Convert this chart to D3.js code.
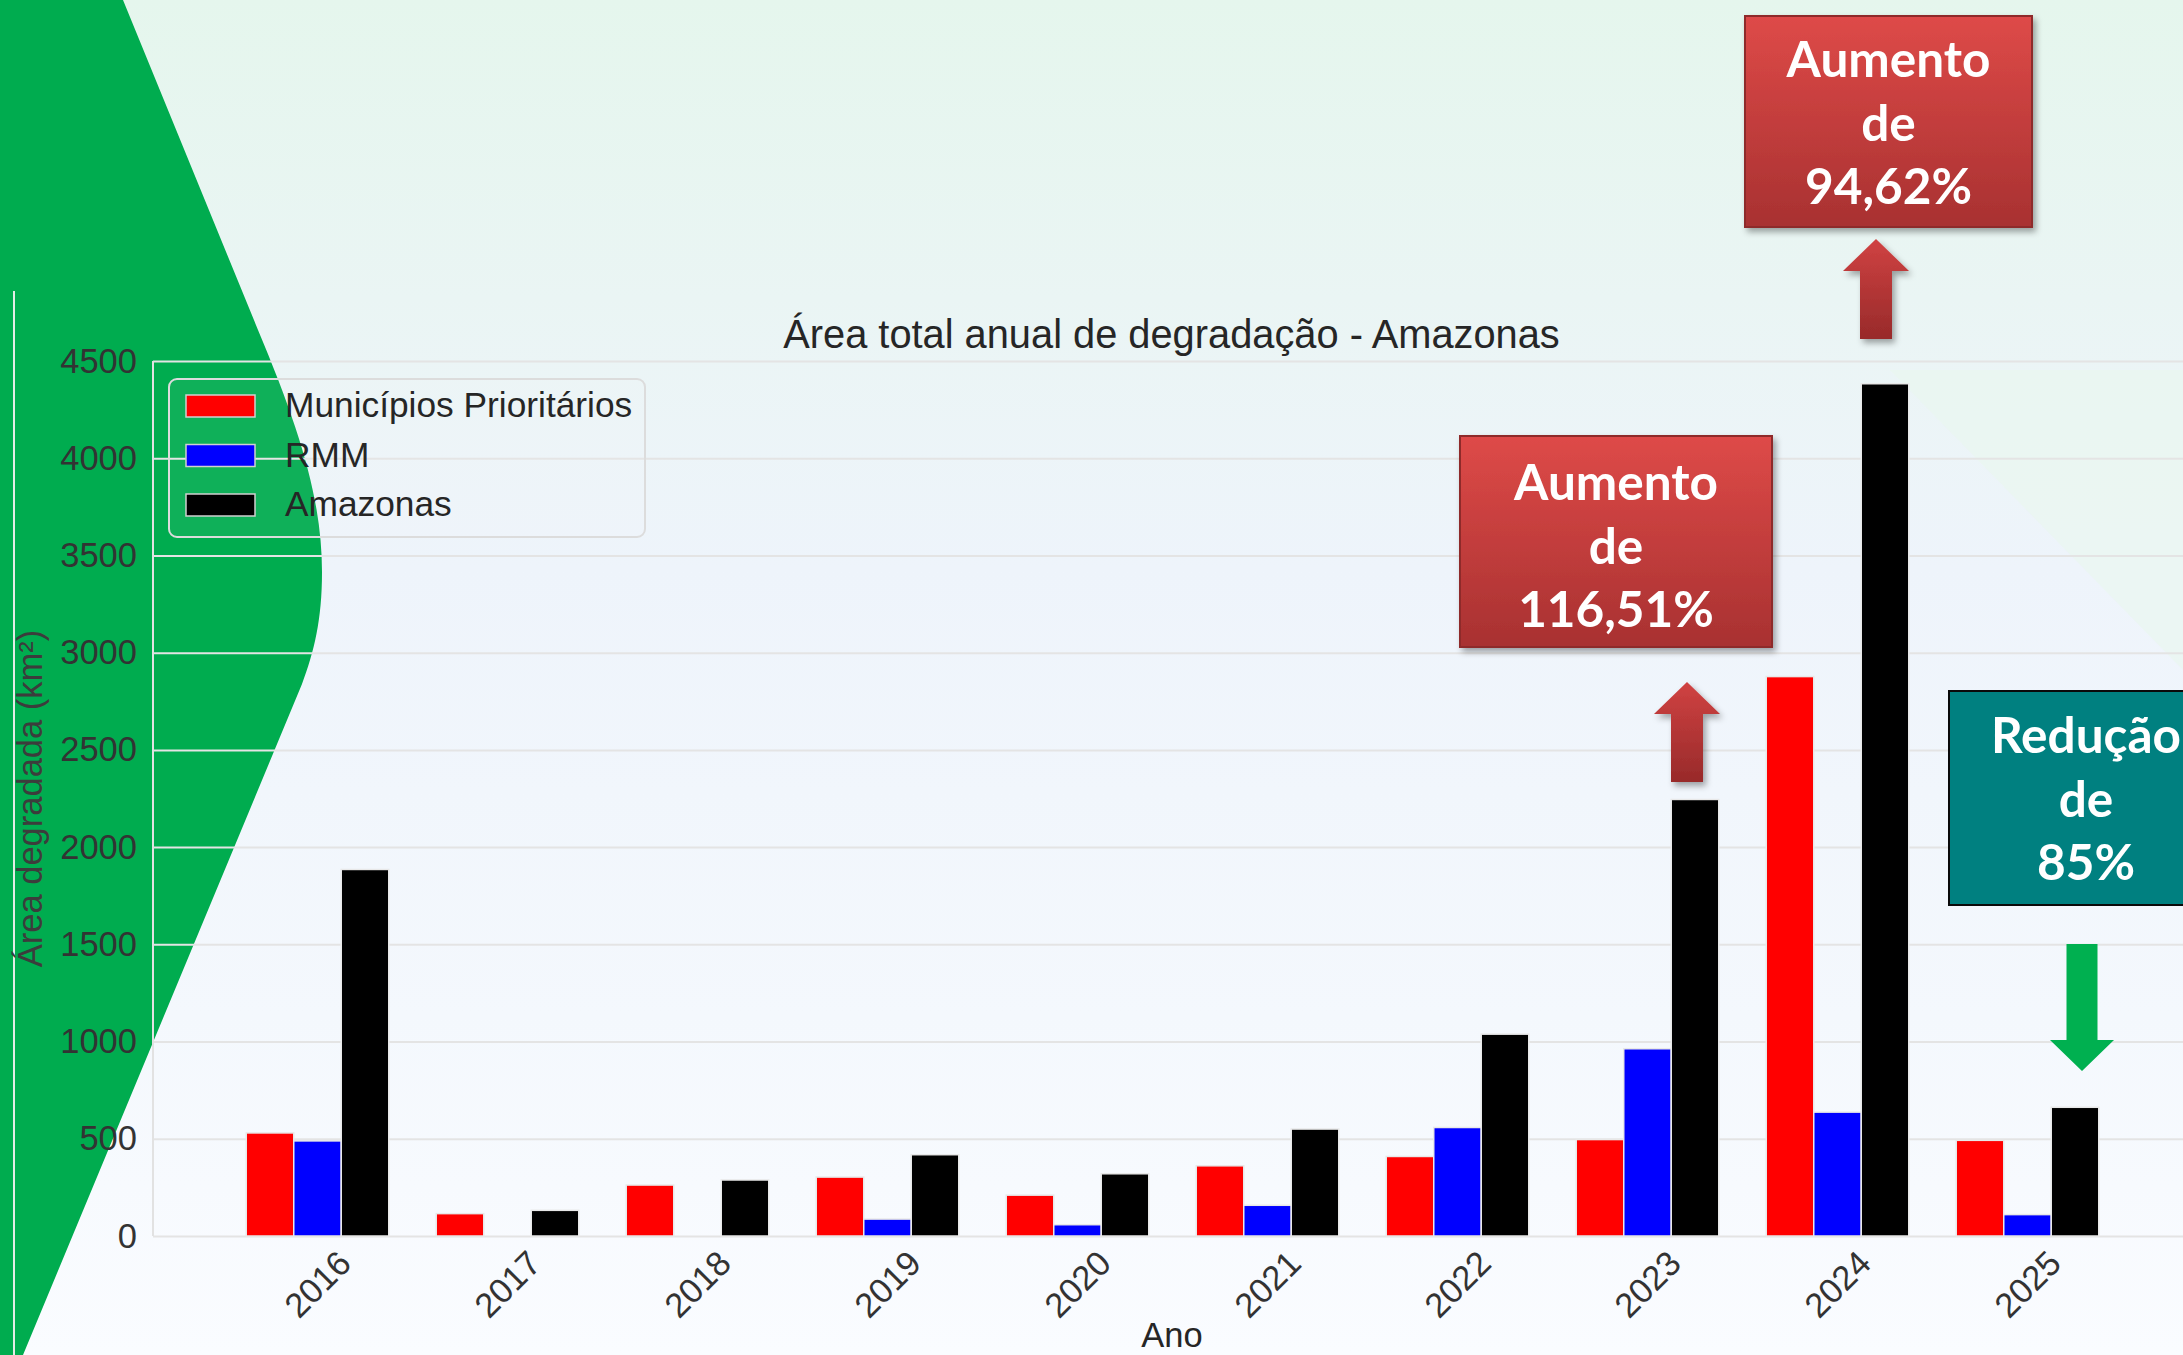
<!DOCTYPE html>
<html>
<head>
<meta charset="utf-8">
<script src="https://cdn.jsdelivr.net/npm/d3@7"></script>
<style>
  body { margin: 0; overflow: hidden; }
  svg { display: block; }
</style>
</head>
<body>
<svg id="chart"></svg>
<script>
// ---- data ----
var years = ['2016', '2017', '2018', '2019', '2020', '2021', '2022', '2023', '2024', '2025'];
var municipios = [530, 115, 262, 303, 210, 361, 409, 496, 2877, 492];
var rmm = [489, 0, 0, 87, 58, 158, 558, 963, 637, 110];
var amazonas = [1885, 132, 288, 418, 320, 550, 1038, 2245, 4383, 662];

var seriesNames = ['Municípios Prioritários', 'RMM', 'Amazonas'];
var seriesColors = ['#ff0000', '#0000ff', '#000000'];
var yTicks = [0, 500, 1000, 1500, 2000, 2500, 3000, 3500, 4000, 4500];

var chartTitle = 'Área total anual de degradação - Amazonas';
var yLabel = 'Área degradada (km²)';
var xLabel = 'Ano';

var callout2023 = ['Aumento', 'de', '116,51%'];
var callout2024 = ['Aumento', 'de', '94,62%'];
var callout2025 = ['Redução', 'de', '85%'];

// ---- svg ----
var W = 2183, H = 1355;
var svg = d3.select('#chart').attr('width', W).attr('height', H);
var defs = svg.append('defs');

var bg = defs.append('linearGradient').attr('id', 'bg')
    .attr('x1', 0).attr('y1', 0).attr('x2', 0).attr('y2', 1);
[['0', '#e5f6ed'], ['0.22', '#eaf5f4'], ['0.42', '#eef4fb'], ['0.75', '#f4f8fd'], ['1', '#fafcff']]
    .forEach(function(s) { bg.append('stop').attr('offset', s[0]).attr('stop-color', s[1]); });

var redBox = defs.append('linearGradient').attr('id', 'redBox')
    .attr('x1', 0).attr('y1', 0).attr('x2', 0).attr('y2', 1);
redBox.append('stop').attr('offset', '0').attr('stop-color', '#de4a48');
redBox.append('stop').attr('offset', '1').attr('stop-color', '#a83131');

var redArrow = defs.append('linearGradient').attr('id', 'redArrow')
    .attr('x1', 0).attr('y1', 0).attr('x2', 0).attr('y2', 1);
redArrow.append('stop').attr('offset', '0').attr('stop-color', '#d04242');
redArrow.append('stop').attr('offset', '1').attr('stop-color', '#982a2a');

var shadow = defs.append('filter').attr('id', 'shadow')
    .attr('x', '-10%').attr('y', '-10%').attr('width', '130%').attr('height', '130%');
shadow.append('feDropShadow').attr('dx', 3).attr('dy', 4).attr('stdDeviation', 3)
    .attr('flood-color', '#000').attr('flood-opacity', 0.35);

// background of the slide
svg.append('rect').attr('width', W).attr('height', H).attr('fill', 'url(#bg)');
svg.append('path')
    .attr('d', 'M1890,370 L2183,370 L2183,670 Z')
    .attr('fill', '#e9f7f0').attr('opacity', 0.7);

// green shape on the left
svg.append('path')
    .attr('d', 'M0,0 L123,0 L258,330 C300,430 322,500 322,572 C322,620 314,652 302,684 L23,1355 L0,1355 Z')
    .attr('fill', '#00ac4f');

// left edge of the chart picture
svg.append('line')
    .attr('x1', 14).attr('x2', 14).attr('y1', 291).attr('y2', H)
    .attr('stroke', '#e3ece6').attr('stroke-width', 2);

// ---- scales ----
var plotLeft = 153, plotRight = 2190;
var x = d3.scaleBand().domain(years).range([222.5, 2122.5]);
var xSub = d3.scaleBand().domain(seriesNames).range([23.75, 166.25]);
var y = d3.scaleLinear().domain([0, 4500]).range([1236, 361]);

var font = "'Liberation Sans', Arial, sans-serif";

// grid
var grid = svg.append('g')
    .attr('transform', 'translate(' + plotLeft + ',0)')
    .call(d3.axisLeft(y).tickValues(yTicks).tickSize(-(plotRight - plotLeft)).tickFormat(''));
grid.select('.domain').remove();
grid.selectAll('line').attr('stroke', '#e4e4e4').attr('stroke-width', 2);

// spines
svg.append('line')
    .attr('x1', plotLeft).attr('x2', plotLeft).attr('y1', y(4500)).attr('y2', y(0))
    .attr('stroke', '#e2e2e2').attr('stroke-width', 2);

// y tick labels
var yAxis = svg.append('g')
    .attr('transform', 'translate(' + plotLeft + ',0)')
    .call(d3.axisLeft(y).tickValues(yTicks).tickSize(0).tickPadding(16).tickFormat(d3.format('d')));
yAxis.select('.domain').remove();
yAxis.selectAll('text')
    .style('font-family', font).style('font-size', '34.5px').attr('fill', '#333');

// bars
var seriesValues = [municipios, rmm, amazonas];
seriesNames.forEach(function(name, s) {
    var rows = years.map(function(yr, i) { return { year: yr, value: seriesValues[s][i] }; })
        .filter(function(d) { return d.value > 0; });
    svg.append('g').selectAll('rect')
        .data(rows)
        .enter()
        .append('rect')
        .attr('x', function(d) { return x(d.year) + xSub(name); })
        .attr('y', function(d) { return y(d.value); })
        .attr('width', xSub.bandwidth())
        .attr('height', function(d) { return y(0) - y(d.value); })
        .attr('fill', seriesColors[s])
        .attr('stroke', '#e8e8e8')
        .attr('stroke-width', 1.5);
});

// x tick labels
var xAxis = svg.append('g')
    .attr('transform', 'translate(0,' + y(0) + ')')
    .call(d3.axisBottom(x).tickSize(0));
xAxis.select('.domain').remove();
xAxis.selectAll('text')
    .attr('y', 0).attr('dy', '0.35em')
    .attr('transform', 'translate(0,48) rotate(-45)')
    .attr('text-anchor', 'middle')
    .style('font-family', font).style('font-size', '34.5px').attr('fill', '#333');

// titles
svg.append('text')
    .attr('x', 1171.5).attr('y', 348)
    .attr('text-anchor', 'middle')
    .style('font-family', font).style('font-size', '39.8px').attr('fill', '#262626')
    .text(chartTitle);

svg.append('text')
    .attr('transform', 'translate(42,798.5) rotate(-90)')
    .attr('text-anchor', 'middle')
    .style('font-family', font).style('font-size', '34.5px').attr('fill', '#3c3c3c')
    .text(yLabel);

svg.append('text')
    .attr('x', 1172).attr('y', 1347)
    .attr('text-anchor', 'middle')
    .style('font-family', font).style('font-size', '34.5px').attr('fill', '#262626')
    .text(xLabel);

// legend
var legend = svg.append('g').attr('transform', 'translate(169,379)');
legend.append('rect')
    .attr('width', 476).attr('height', 158).attr('rx', 8)
    .attr('fill', '#ffffff').attr('fill-opacity', 0.06)
    .attr('stroke', '#dcdcdc').attr('stroke-width', 2);
var items = legend.selectAll('.item')
    .data(seriesNames)
    .enter()
    .append('g')
    .attr('class', 'item')
    .attr('transform', function(d, i) { return 'translate(0,' + (i * 49.5) + ')'; });
items.append('rect')
    .attr('x', 17).attr('y', 16).attr('width', 69).attr('height', 22)
    .attr('fill', function(d, i) { return seriesColors[i]; })
    .attr('stroke', '#d0d0d0').attr('stroke-width', 1.5);
items.append('text')
    .attr('x', 116).attr('y', 38)
    .style('font-family', font).style('font-size', '35.3px').attr('fill', '#262626')
    .text(function(d) { return d; });

// ---- callouts ----
function callout(lines, bx, by, bw, bh, cx, dy, fill, stroke, useShadow) {
    var g = svg.append('g');
    var r = g.append('rect')
        .attr('x', bx).attr('y', by).attr('width', bw).attr('height', bh)
        .attr('fill', fill).attr('stroke', stroke).attr('stroke-width', 2);
    if (useShadow) r.attr('filter', 'url(#shadow)');
    g.selectAll('text')
        .data(lines)
        .enter()
        .append('text')
        .attr('x', cx)
        .attr('y', function(d, i) { return by + dy + i * 63.5; })
        .attr('text-anchor', 'middle')
        .style('font-family', "Lato, 'Open Sans', sans-serif")
        .style('font-weight', 700).style('font-size', '49.5px')
        .attr('fill', '#ffffff')
        .text(function(d) { return d; });
}

function arrow(cx, tipY, headY, headHalf, shaftHalf, endY, fill, useShadow) {
    var pts = [[cx, tipY], [cx + headHalf, headY], [cx + shaftHalf, headY], [cx + shaftHalf, endY],
               [cx - shaftHalf, endY], [cx - shaftHalf, headY], [cx - headHalf, headY]];
    var p = svg.append('path')
        .attr('d', d3.line()(pts) + 'Z')
        .attr('fill', fill);
    if (useShadow) p.attr('filter', 'url(#shadow)');
}

callout(callout2024, 1745, 16, 287, 211, 1888.5, 61, 'url(#redBox)', '#8e2a2a', true);
callout(callout2023, 1460, 436, 312, 211, 1616, 64, 'url(#redBox)', '#8e2a2a', true);
callout(callout2025, 1949, 691, 274, 214, 2086, 62, '#008080', '#0a0a0a', false);

arrow(1876, 239, 271, 33, 16, 339, 'url(#redArrow)', true);
arrow(1687, 682, 714, 33, 16, 782, 'url(#redArrow)', true);
arrow(2082, 1071, 1040, 32, 15.5, 944, '#00b050', false);
</script>
</body>
</html>
